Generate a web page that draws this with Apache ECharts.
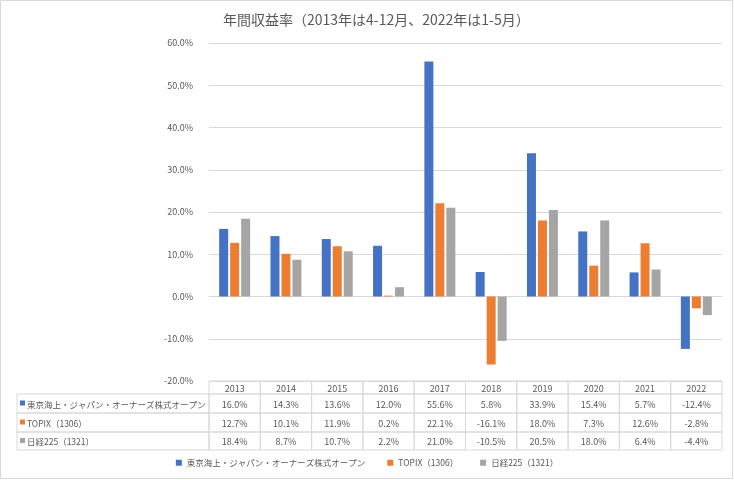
<!DOCTYPE html>
<html lang="ja">
<head>
  <meta charset="UTF-8">
  <title>年間収益率</title>
  <script src="https://cdn.jsdelivr.net/npm/echarts@6/dist/echarts.min.js"></script>
  <style>
    body { margin: 0; background: #fff; }
    #chart { width: 734px; height: 480px; }
  </style>
</head>
<body>
  <div id="chart"></div>
  <script>
    const years = ['2013', '2014', '2015', '2016', '2017', '2018', '2019', '2020', '2021', '2022'];
    const seriesNames = ['東京海上・ジャパン・オーナーズ株式オープン', 'TOPIX（1306）', '日経225（1321）'];
    const tokio = [16.0, 14.3, 13.6, 12.0, 55.6, 5.8, 33.9, 15.4, 5.7, -12.4];
    const topix = [12.7, 10.1, 11.9, 0.2, 22.1, -16.1, 18.0, 7.3, 12.6, -2.8];
    const nikkei = [18.4, 8.7, 10.7, 2.2, 21.0, -10.5, 20.5, 18.0, 6.4, -4.4];
    const values = [tokio, topix, nikkei];
    const colors = ['#4472C4', '#ED7D31', '#A5A5A5'];

    const font = '"Noto Sans CJK JP", "Noto Sans", sans-serif';
    const textColor = '#595959';
    const lineColor = '#d9d9d9';
    // 表の行の境界（表グリッド内の縦方向の値、上から）
    const rowEdges = [0, 13, 32, 51, 69];
    const tableLeft = 17;

    const fmt = v => v.toFixed(1) + '%';

    const chart = echarts.init(document.getElementById('chart'));

    // 表のセル（年 × 行）
    const cellData = [];
    years.forEach((y, i) => {
      for (let r = 0; r < 4; r++) cellData.push([i, r]);
    });

    function renderCell(params, api) {
      const i = api.value(0);
      const r = api.value(1);
      const band = api.size([1, 0])[0];
      const cx = api.coord([i, 0])[0];
      const y0 = api.coord([i, rowEdges[r]])[1];
      const y1 = api.coord([i, rowEdges[r + 1]])[1];
      const text = r === 0 ? years[i] : fmt(values[r - 1][i]);
      return {
        type: 'group',
        children: [
          {
            type: 'rect',
            shape: { x: cx - band / 2, y: y0, width: band, height: y1 - y0 },
            style: { fill: 'none', stroke: lineColor, lineWidth: 1 }
          },
          {
            type: 'text',
            style: {
              text: text, x: cx, y: (y0 + y1) / 2 + 1,
              align: 'center', verticalAlign: 'middle',
              fill: textColor, fontSize: 9, fontFamily: font
            }
          }
        ]
      };
    }

    function renderHead(params, api) {
      const r = api.value(1);
      const band = api.size([1, 0])[0];
      const xr = api.coord([0, 0])[0] - band / 2;
      const y0 = api.coord([0, rowEdges[r]])[1];
      const y1 = api.coord([0, rowEdges[r + 1]])[1];
      const ym = (y0 + y1) / 2;
      return {
        type: 'group',
        children: [
          {
            type: 'rect',
            shape: { x: tableLeft, y: y0, width: xr - tableLeft, height: y1 - y0 },
            style: { fill: 'none', stroke: lineColor, lineWidth: 1 }
          },
          {
            type: 'rect',
            shape: { x: tableLeft + 3, y: ym - 3, width: 5, height: 5 },
            style: { fill: colors[r - 1] }
          },
          {
            type: 'text',
            style: {
              text: seriesNames[r - 1], x: tableLeft + 10, y: ym + 1,
              align: 'left', verticalAlign: 'middle',
              fill: textColor, fontSize: 8.5, fontFamily: font
            }
          }
        ]
      };
    }

    const option = {
      backgroundColor: '#ffffff',
      animation: false,
      textStyle: { fontFamily: font },
      title: {
        text: '年間収益率（2013年は4-12月、2022年は1-5月）',
        left: 218,
        top: 8,
        textStyle: { color: textColor, fontSize: 14, fontWeight: 'normal', fontFamily: font }
      },
      legend: {
        data: seriesNames,
        bottom: 8,
        left: 'center',
        itemWidth: 6,
        itemHeight: 6,
        itemGap: 22,
        icon: 'rect',
        textStyle: { color: textColor, fontSize: 8.5, fontFamily: font }
      },
      grid: [
        { left: 209, right: 12, top: 43, height: 338 },
        { left: 209, right: 12, top: 381, height: 69 }
      ],
      xAxis: [
        {
          type: 'category', data: years, gridIndex: 0,
          axisLine: { onZero: true, lineStyle: { color: lineColor } },
          axisTick: { show: false },
          axisLabel: { show: false }
        },
        {
          type: 'category', data: years, gridIndex: 1,
          axisLine: { show: false }, axisTick: { show: false }, axisLabel: { show: false }
        }
      ],
      yAxis: [
        {
          type: 'value', gridIndex: 0, min: -20, max: 60, interval: 10,
          axisLine: { show: false }, axisTick: { show: false },
          axisLabel: { formatter: v => fmt(v), color: textColor, fontSize: 9, fontFamily: font, margin: 16 },
          splitLine: { lineStyle: { color: lineColor } }
        },
        {
          type: 'value', gridIndex: 1, min: 0, max: 69, inverse: true, show: false
        }
      ],
      series: [
        ...seriesNames.map((name, k) => ({
          name: name,
          type: 'bar',
          data: values[k],
          xAxisIndex: 0, yAxisIndex: 0,
          barWidth: 9,
          barGap: '22%',
          itemStyle: { color: colors[k] }
        })),
        {
          type: 'custom', xAxisIndex: 1, yAxisIndex: 1, clip: false,
          data: cellData, renderItem: renderCell, silent: true
        },
        {
          type: 'custom', xAxisIndex: 1, yAxisIndex: 1, clip: false,
          data: [[0, 1], [0, 2], [0, 3]], renderItem: renderHead, silent: true
        }
      ],
      graphic: [
        {
          type: 'rect',
          shape: { x: 0.5, y: 0.5, width: 732, height: 478 },
          style: { fill: 'none', stroke: lineColor, lineWidth: 1 },
          silent: true
        }
      ]
    };

    chart.setOption(option);
  </script>
</body>
</html>
